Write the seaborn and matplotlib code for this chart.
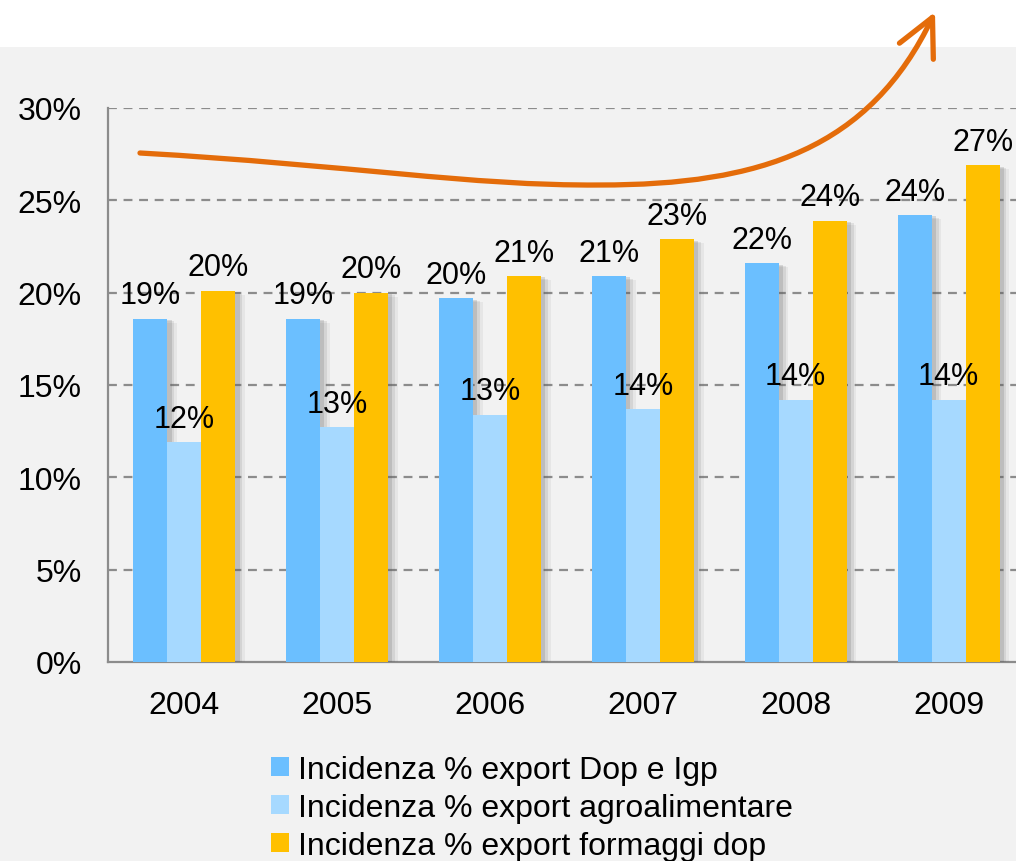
import matplotlib
matplotlib.use("Agg")
import matplotlib.pyplot as plt
import seaborn as sns
import pandas as pd
import numpy as np
from matplotlib.patches import Rectangle, FancyArrowPatch
from matplotlib.path import Path
import matplotlib.patheffects as pe

years = ["2004", "2005", "2006", "2007", "2008", "2009"]
series_names = ["Incidenza % export Dop e Igp",
                "Incidenza % export agroalimentare",
                "Incidenza % export formaggi dop"]
dop_igp = [18.6, 18.6, 19.7, 20.9, 21.6, 24.2]
agro = [11.9, 12.7, 13.4, 13.7, 14.2, 14.2]
formaggi = [20.1, 20.0, 20.9, 22.9, 23.9, 26.9]
colors = ["#6BBFFF", "#A6D9FF", "#FFC000"]

df = pd.DataFrame({
    "year": years * 3,
    "serie": [series_names[0]] * 6 + [series_names[1]] * 6 + [series_names[2]] * 6,
    "value": dop_igp + agro + formaggi,
})

sns.set_theme(style="white")
plt.rcParams["font.family"] = ["Liberation Sans", "DejaVu Sans"]
plt.rcParams["text.color"] = "black"
plt.rcParams["xtick.color"] = "black"
plt.rcParams["ytick.color"] = "black"

W, H = 1016, 862
fig = plt.figure(figsize=(W / 100, H / 100), dpi=100)
fig.patch.set_facecolor("white")
fig.add_artist(Rectangle((0, 0), 1, 1 - 48 / H, transform=fig.transFigure,
                         facecolor="#F2F2F2", edgecolor="none", zorder=-10))

ax = fig.add_axes([108 / W, 1 - 663 / H, 917 / W, (663 - 109) / H])
ax.set_facecolor("none")

sns.barplot(data=df, x="year", y="value", hue="serie", palette=colors,
            width=0.667, ax=ax, legend=False, saturation=1, zorder=3)

shadow = [pe.SimplePatchShadow(offset=(7, -3), shadow_rgbFace=(0.35, 0.35, 0.35), alpha=0.08),
          pe.SimplePatchShadow(offset=(5, -2), shadow_rgbFace=(0.35, 0.35, 0.35), alpha=0.12),
          pe.SimplePatchShadow(offset=(3, -1), shadow_rgbFace=(0.35, 0.35, 0.35), alpha=0.18),
          pe.Normal()]
for p in ax.patches:
    p.set_path_effects(shadow)
    p.set_edgecolor("none")

for container in ax.containers:
    labels = [f"{v:.0f}%" for v in container.datavalues]
    ax.bar_label(container, labels=labels, padding=6, fontsize=22, color="black", zorder=5)

ax.set_xlim(-0.5, 5.5)
ax.set_ylim(0, 30)
ax.set_yticks(np.arange(0, 31, 5))
ax.set_yticklabels([f"{v}%" for v in range(0, 31, 5)], fontsize=23, color="black")
ax.set_xticks(range(6))
ax.set_xticklabels(years, fontsize=23, color="black")
ax.set_xticks(np.arange(-0.5, 6, 1), minor=True)
ax.tick_params(axis="x", which="major", length=0, pad=20)
ax.tick_params(axis="x", which="minor", length=9, width=1.5, color="#8C8C8C", direction="out")
ax.tick_params(axis="y", which="major", length=9, width=1.5, color="#8C8C8C", direction="out", pad=10)
ax.set_xlabel("")
ax.set_ylabel("")

for v in range(5, 31, 5):
    ax.axhline(v, color="#8C8C8C", linewidth=1.6, linestyle=(0, (4, 3)), zorder=1)

for s in ["top", "right"]:
    ax.spines[s].set_visible(False)
for s in ["left", "bottom"]:
    ax.spines[s].set_color("#8C8C8C")
    ax.spines[s].set_linewidth(1.6)

handles = [Rectangle((0, 0), 1, 1, facecolor=c, edgecolor="none") for c in colors]
fig.legend(handles, series_names, loc="upper left",
           bbox_to_anchor=(271 / W, 1 - 756 / H), frameon=False, fontsize=23,
           handlelength=0.55, handleheight=0.55, handletextpad=0.3, labelspacing=0.25,
           borderpad=0, borderaxespad=0)

# Orange trend arrow (figure pixel coordinates)
def fc(x, y):
    return (x / W, 1 - y / H)

verts = [fc(140, 154), fc(350, 166), fc(470, 187), fc(600, 186),
         fc(760, 186), fc(870, 150), fc(935, 13)]
codes = [Path.MOVETO, Path.CURVE4, Path.CURVE4, Path.CURVE4,
         Path.CURVE4, Path.CURVE4, Path.CURVE4]
arrow = FancyArrowPatch(path=Path(verts, codes), arrowstyle="->,head_length=9,head_width=4.5",
                        transform=fig.transFigure, color="#E46C0A", linewidth=3.8,
                        mutation_scale=3, zorder=20, capstyle="round", joinstyle="round")
fig.add_artist(arrow)

fig.savefig("out.png", dpi=100)
